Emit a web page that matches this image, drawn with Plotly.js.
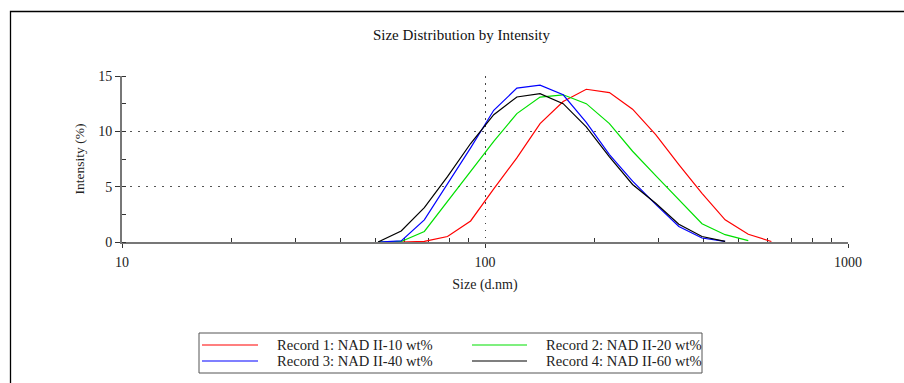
<!DOCTYPE html>
<html><head><meta charset="utf-8">
<script src="https://cdn.plot.ly/plotly-3.0.1.min.js"></script>
<style>html,body{margin:0;padding:0;background:#fff}#chart{width:904px;height:383px}</style>
</head><body><div id="chart"></div><script>
// Size bins (d.nm)
const sizes = [50.75, 58.77, 68.06, 78.82, 91.28, 105.7, 122.4, 141.8, 164.2, 190.1, 220.2, 255.0, 295.3, 342.0, 396.1, 458.7, 531.2, 615.1];
// Intensity (%) per record
const record1 = [null, 0, 0.05, 0.5, 1.9, 4.8, 7.6, 10.7, 12.7, 13.8, 13.5, 12.0, 9.7, 7.0, 4.4, 2.0, 0.7, 0.05];
const record2 = [0, 0.05, 0.95, 3.7, 6.4, 9.1, 11.6, 13.1, 13.3, 12.5, 10.7, 8.2, 6.0, 3.8, 1.65, 0.66, 0.12, null];
const record3 = [0, 0.1, 2.0, 5.2, 8.5, 11.9, 13.9, 14.17, 13.3, 10.8, 7.9, 5.5, 3.4, 1.4, 0.36, 0.05, null, null];
const record4 = [0, 1.0, 3.1, 5.9, 8.9, 11.5, 13.1, 13.4, 12.5, 10.4, 7.7, 5.2, 3.5, 1.6, 0.5, 0.05, null, null];
const seriesNames = ["Record 1: NAD II-10 wt%", "Record 2: NAD II-20 wt%", "Record 3: NAD II-40 wt%", "Record 4: NAD II-60 wt%"];
const xTickVals = [10, 100, 1000];
const xTickText = ["10", "100", "1000"];
const xMinorVals = [20, 30, 40, 50, 60, 70, 80, 90, 200, 300, 400, 500, 600, 700, 800, 900];
const xGridVals = [100];
const yTickVals = [0, 5, 10, 15];
const titleText = "Size Distribution by Intensity";
const xTitle = "Size (d.nm)";
const yTitle = "Intensity (%)";

// styles
const seriesColors = ["#ff0000", "#00e000", "#0000ff", "#000000"];
const values = [record1, record2, record3, record4];
const FONT = "Liberation Serif, Times New Roman, serif";
const W = 904, H = 383, ML = 122, MR = 56, MT = 76, MB = 141;
const PW = W - ML - MR, PH = H - MT - MB;
const px = v => (v - ML) / PW;            // pixel x -> paper
const py = v => (H - MB - v) / PH;        // pixel y -> paper

const traces = values.map((v, i) => ({
  type: "scatter", mode: "lines", x: sizes, y: v, name: seriesNames[i],
  line: {color: seriesColors[i], width: 1.2}, connectgaps: false, hoverinfo: "skip", showlegend: false
}));
// overlay axis carrying the single vertical dotted grid line
traces.push({type: "scatter", mode: "lines", x: xTickVals, y: [null, null, null], xaxis: "x2", showlegend: false, hoverinfo: "skip"});

// legend (two columns, drawn as layout items)
const legCols = [[202, 258, 275], [472, 527, 544]];
const legRows = [345, 361];
const shapes = [
  {type: "rect", xref: "paper", yref: "paper", x0: px(10.5), x1: px(912), y0: py(400), y1: py(11.5),
   line: {color: "#000", width: 1.3}, fillcolor: "rgba(0,0,0,0)", layer: "below"},
  {type: "rect", xref: "paper", yref: "paper", x0: px(199), x1: px(702), y0: py(373), y1: py(333),
   line: {color: "#555", width: 1}, fillcolor: "rgba(0,0,0,0)", layer: "below"}
];
const annotations = [];
seriesNames.forEach((nm, i) => {
  const c = legCols[i % 2], r = legRows[Math.floor(i / 2)];
  shapes.push({type: "line", xref: "paper", yref: "paper", x0: px(c[0]), x1: px(c[1]), y0: py(r), y1: py(r),
    line: {color: seriesColors[i], width: 1.2}});
  annotations.push({xref: "paper", yref: "paper", x: px(c[2]), y: py(r), xanchor: "left", yanchor: "middle",
    text: nm, showarrow: false, font: {family: FONT, size: 14.6, color: "#222"}});
});

const layout = {
  width: W, height: H,
  margin: {l: ML, r: MR, t: MT, b: MB, autoexpand: false},
  paper_bgcolor: "#fff", plot_bgcolor: "#fff",
  font: {family: FONT, size: 13, color: "#222"},
  showlegend: false,
  title: {text: titleText, font: {family: FONT, size: 15, color: "#111"}, x: 461.5/W, xref: "container", xanchor: "center", y: 1 - 35/H, yref: "container", yanchor: "middle"},
  xaxis: {
    type: "log", range: [1, 3], tickmode: "array", tickvals: xTickVals, ticktext: xTickText,
    ticks: "outside", ticklen: 4, tickcolor: "#333", tickwidth: 1,
    showline: true, linecolor: "#777", linewidth: 2, showgrid: false, zeroline: false,
    layer: "below traces", ticklabelstandoff: 2,
    tickfont: {family: FONT, size: 14, color: "#222"},
    minor: {tickmode: "array", tickvals: xMinorVals, ticks: "inside", ticklen: 4, tickcolor: "#333", showgrid: false},
    title: {text: xTitle, font: {family: FONT, size: 14, color: "#222"}, standoff: 10},
    fixedrange: true
  },
  xaxis2: {
    type: "log", range: [1, 3], overlaying: "x", tickmode: "array", tickvals: xGridVals,
    showticklabels: false, ticks: "", showline: false, zeroline: false,
    showgrid: true, gridcolor: "#444", gridwidth: 1, griddash: "1.5px,5.5px", layer: "below traces"
  },
  yaxis: {
    range: [0, 15], tickmode: "array", tickvals: yTickVals,
    ticks: "outside", ticklen: 5, tickcolor: "#333", tickwidth: 1,
    showline: true, linecolor: "#777", linewidth: 2, zeroline: false,
    showgrid: true, gridcolor: "#555", gridwidth: 1, griddash: "1.5px,6.5px",
    layer: "below traces",
    tickfont: {family: FONT, size: 14, color: "#222"},
    minor: {dtick: 2.5, ticks: "inside", ticklen: 4, tickcolor: "#333", showgrid: false},
    title: {text: yTitle, font: {family: FONT, size: 13.5, color: "#222"}, standoff: 10},
    fixedrange: true
  },
  shapes: shapes,
  annotations: annotations
};
Plotly.newPlot("chart", traces, layout, {staticPlot: true, displayModeBar: false});
</script></body></html>
